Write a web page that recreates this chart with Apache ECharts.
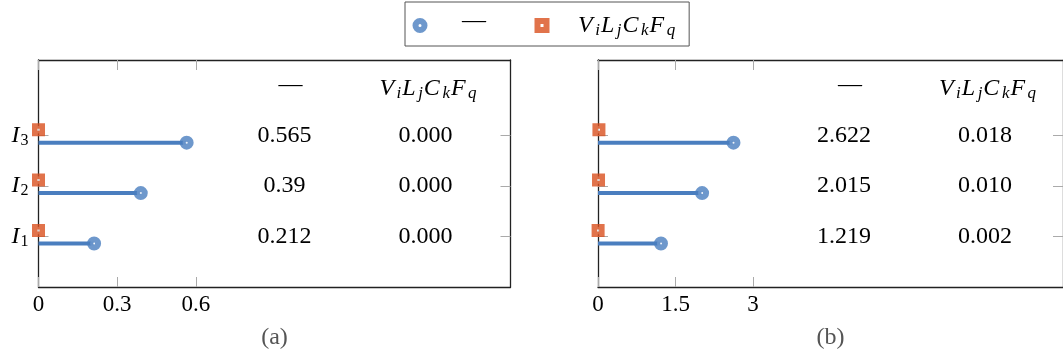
<!DOCTYPE html>
<html>
<head>
<meta charset="utf-8">
<script src="https://cdn.jsdelivr.net/npm/echarts@6/dist/echarts.min.js"></script>
<style>html,body{margin:0;padding:0;background:#fff}#c{width:1063px;height:360px}</style>
</head>
<body>
<div id="c"></div>
<script>
// ---- data ----
const categoryIndex = [1, 2, 3];               // I_1, I_2, I_3
const categorySubs = ['1', '2', '3'];
const stemA = [0.212, 0.39, 0.565];            // "—" series, panel (a)
const vlcfA = [0.000, 0.000, 0.000];           // V_iL_jC_kF_q series, panel (a)
const stemB = [1.219, 2.015, 2.622];           // "—" series, panel (b)
const vlcfB = [0.002, 0.010, 0.018];           // V_iL_jC_kF_q series, panel (b)
const xTicksA = [0, 0.3, 0.6];
const xTicksB = [0, 1.5, 3];
const xMaxA = 1.8, xMaxB = 9;
const captions = ['(a)', '(b)'];

// ---- style ----
const FONT = 'Liberation Serif';
const BLUE = '#4a7ebf', RED = '#d9501e';
const AXIS = '#222', TICK = '#aaa';
const STEM_DY = 7, SQ_DY = -6;
const rich = {
  m: {fontFamily: FONT, fontStyle: 'italic', fontSize: 24, color: '#000', padding: [0, 2.5, 0, 0]},
  s: {fontFamily: FONT, fontStyle: 'italic', fontSize: 17, color: '#000', padding: [10, 1, 0, 0]},
  n: {fontFamily: FONT, fontSize: 16, color: '#000', padding: [10, 0, 0, 0]}
};
const richY = {
  m: {fontFamily: FONT, fontStyle: 'italic', fontSize: 24, color: '#000', padding: [0, 1, 0, 0]},
  n: {fontFamily: FONT, fontSize: 16, color: '#000', padding: [10, 0, 0, 0]}
};
const VLCF = '{m|V}{s|i}{m|L}{s|j}{m|C}{s|k}{m|F}{s|q}';
const DASH = '\u2014';

const grids = [
  {left: 38.5, top: 60, width: 472, height: 227},
  {left: 598, top: 60, width: 472, height: 227}
];

function xAxes(g, max, interval, ticks) {
  const base = {
    gridIndex: g, type: 'value', min: 0, max: max, interval: interval,
    axisLine: {show: true, onZero: false, lineStyle: {color: AXIS, width: 1.3}},
    axisTick: {show: true, inside: true, length: 10, customValues: ticks, lineStyle: {color: TICK, width: 1}},
    splitLine: {show: false}
  };
  return [
    Object.assign({}, base, {position: 'bottom',
      axisLabel: {show: true, customValues: ticks, formatter: v => String(v), margin: 6,
        fontFamily: FONT, fontSize: 23, color: '#000'}}),
    Object.assign({}, base, {position: 'top', axisLabel: {show: false}})
  ];
}
function yAxes(g, showLabels) {
  const base = {
    gridIndex: g, type: 'value', min: 0, max: 4.5,
    axisLine: {show: true, onZero: false, lineStyle: {color: AXIS, width: 1.3}},
    axisTick: {show: true, inside: true, length: 10, customValues: categoryIndex, lineStyle: {color: TICK, width: 1}},
    splitLine: {show: false}
  };
  return [
    Object.assign({}, base, {position: 'left',
      axisLabel: {show: showLabels, customValues: categoryIndex, margin: 10,
        formatter: v => '{m|I}{n|' + categorySubs[categoryIndex.indexOf(v)] + '}', rich: richY}}),
    Object.assign({}, base, {position: 'right', axisLabel: {show: false}})
  ];
}

function panelSeries(g, stems, vlcf) {
  const xi = g * 2, yi = g * 2;
  return [
    {
      type: 'custom', xAxisIndex: xi, yAxisIndex: yi, silent: true, z: 3,
      data: stems.map((v, i) => [v, categoryIndex[i]]),
      renderItem: function (params, api) {
        const p0 = api.coord([0, api.value(1)]);
        const p1 = api.coord([api.value(0), api.value(1)]);
        return {type: 'line', shape: {x1: p0[0], y1: p0[1] + STEM_DY, x2: p1[0], y2: p1[1] + STEM_DY},
          style: {stroke: BLUE, lineWidth: 4}};
      }
    },
    {
      name: DASH, type: 'scatter', xAxisIndex: xi, yAxisIndex: yi, clip: false, z: 5, silent: true,
      data: stems.map((v, i) => [v, categoryIndex[i]]),
      symbol: 'circle', symbolSize: 8, symbolOffset: [0, STEM_DY],
      itemStyle: {color: '#fff', borderColor: BLUE, borderWidth: 6}
    },
    {
      name: 'VLCF', type: 'scatter', xAxisIndex: xi, yAxisIndex: yi, clip: false, z: 5, silent: true,
      data: vlcf.map((v, i) => [v, categoryIndex[i]]),
      symbol: 'rect', symbolSize: 7.5, symbolOffset: [0, SQ_DY],
      itemStyle: {color: '#fff', borderColor: RED, borderWidth: 5.5}
    }
  ];
}

const chart = echarts.init(document.getElementById('c'), null, {renderer: 'canvas'});
chart.setOption({
  animation: false,
  backgroundColor: '#fff',
  grid: grids,
  xAxis: xAxes(0, xMaxA, 0.3, xTicksA).concat(xAxes(1, xMaxB, 1.5, xTicksB)),
  yAxis: yAxes(0, true).concat(yAxes(1, false)),
  legend: {
    left: 405, top: 2, orient: 'horizontal',
    padding: [7, 14, 7, 7.5], borderColor: '#555', borderWidth: 1,
    itemWidth: 9, itemHeight: 9, itemGap: 48.5, selectedMode: false,
    textStyle: {fontFamily: FONT, fontSize: 24, color: '#000', rich: rich},
    formatter: name => name === 'VLCF' ? VLCF : name,
    data: [
      {name: DASH, icon: 'circle', itemStyle: {color: '#fff', borderColor: BLUE, borderWidth: 6},
        textStyle: {padding: [0, 0, 9, 32.5]}},
      {name: 'VLCF', icon: 'rect', itemStyle: {color: '#fff', borderColor: RED, borderWidth: 6},
        textStyle: {padding: [0, 0, 0, 26.5]}}
    ]
  },
  series: panelSeries(0, stemA, vlcfA).concat(panelSeries(1, stemB, vlcfB))
});

// table texts and captions, positioned through the axes
const graphics = [];
[[stemA, vlcfA], [stemB, vlcfB]].forEach(function (pair, g) {
  const x0 = chart.convertToPixel({xAxisIndex: g * 2}, 0);
  const xEnd = chart.convertToPixel({xAxisIndex: g * 2}, g === 0 ? xMaxA : xMaxB);
  const txt = {fontFamily: FONT, fontSize: 24, fill: '#000', align: 'center', verticalAlign: 'middle'};
  graphics.push({type: 'text', x: x0 + 252, y: 85, style: Object.assign({text: DASH}, txt)});
  graphics.push({type: 'text', x: x0 + 390, y: 89, style: Object.assign({text: VLCF, rich: rich}, txt)});
  categoryIndex.forEach(function (k, i) {
    const y = chart.convertToPixel({yAxisIndex: g * 2}, k);
    graphics.push({type: 'text', x: x0 + 246, y: y, style: Object.assign({text: String(pair[0][i])}, txt)});
    graphics.push({type: 'text', x: x0 + 387, y: y, style: Object.assign({text: pair[1][i].toFixed(3)}, txt)});
  });
  graphics.push({type: 'text', x: (x0 + xEnd) / 2, y: 338,
    style: Object.assign({}, txt, {text: captions[g], fill: '#555'})});
});
chart.setOption({graphic: graphics});
</script>
</body>
</html>
